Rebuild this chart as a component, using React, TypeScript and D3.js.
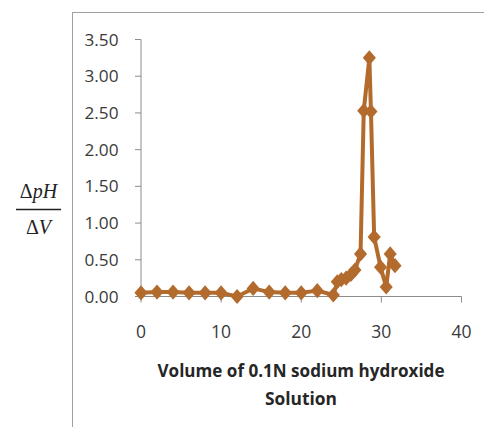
import * as d3 from "d3";

// titration readings: volume of NaOH (ml) vs ΔpH/ΔV
const volume = [0, 2, 4, 6, 8, 10, 12, 14, 16, 18, 20, 22, 24, 24.5, 25, 25.6, 26.2, 26.7, 27.4, 27.8, 28.5, 28.7, 29.1, 29.9, 30.6, 31.1, 31.7];
const dpHdV = [0.05, 0.06, 0.06, 0.05, 0.05, 0.05, 0.0, 0.11, 0.06, 0.05, 0.05, 0.08, 0.02, 0.2, 0.23, 0.25, 0.3, 0.36, 0.58, 2.53, 3.25, 2.52, 0.81, 0.4, 0.13, 0.58, 0.42];
const xTicks = [0, 10, 20, 30, 40];
const yTicks = [0, 0.5, 1, 1.5, 2, 2.5, 3, 3.5];

const color = "#b36b2d";
const axisColor = "#8c8c8c";
const labelFont = "'Open Sans', 'Liberation Sans', sans-serif";
const titleFont = "'Open Sans', 'Liberation Sans', sans-serif";

export default function App() {
  const width = 484;
  const height = 427;
  const x = d3.scaleLinear().domain([0, 40]).range([141, 461.5]);
  const y = d3.scaleLinear().domain([0, 3.5]).range([296.5, 39.5]);
  const points = volume.map((v, i) => [v, dpHdV[i]] as [number, number]);
  const line = d3
    .line<[number, number]>()
    .x((d) => x(d[0]))
    .y((d) => y(d[1]));
  const diamond = d3.symbol().type(d3.symbolDiamond2).size(110)() ?? "";

  return (
    <svg
      width={width}
      height={height}
      style={{ position: "absolute", left: 0, top: 0, background: "#fff" }}
    >
      {/* chart frame */}
      <rect x={72.5} y={12.5} width={500} height={500} fill="none" stroke="#a0a0a0" strokeWidth={1} />

      {/* y axis */}
      <line x1={x(0)} x2={x(0)} y1={y(3.5)} y2={y(0)} stroke={axisColor} />
      {yTicks.map((t) => (
        <g key={t}>
          <line x1={x(0) - 6} x2={x(0)} y1={y(t)} y2={y(t)} stroke={axisColor} />
          <text
            x={118.5}
            y={y(t) + 6}
            textAnchor="end"
            fontFamily={labelFont}
            fontSize={16.5}
            fill="#3a3a3a"
            textLength={34}
            lengthAdjust="spacingAndGlyphs"
          >
            {d3.format(".2f")(t)}
          </text>
        </g>
      ))}

      {/* x axis */}
      <line x1={x(0)} x2={x(40)} y1={y(0)} y2={y(0)} stroke={axisColor} />
      {xTicks.map((t) => (
        <g key={t}>
          <line x1={x(t)} x2={x(t)} y1={y(0)} y2={y(0) + 6} stroke={axisColor} />
          <text
            x={x(t)}
            y={338}
            textAnchor="middle"
            fontFamily={labelFont}
            fontSize={17.5}
            fill="#3a3a3a"
          >
            {t}
          </text>
        </g>
      ))}

      {/* series */}
      <path d={line(points) ?? ""} fill="none" stroke={color} strokeWidth={4} strokeLinejoin="round" />
      {points.map((d, i) => (
        <path key={i} d={diamond} transform={`translate(${x(d[0])},${y(d[1])}) scale(1,1.15)`} fill={color} />
      ))}

      {/* x axis title */}
      <text
        x={301}
        y={377}
        textAnchor="middle"
        fontFamily={titleFont}
        fontWeight="bold"
        fontSize={18.5}
        fill="#262626"
        textLength={287}
        lengthAdjust="spacingAndGlyphs"
      >
        Volume of 0.1N sodium hydroxide
      </text>
      <text
        x={301}
        y={404.5}
        textAnchor="middle"
        fontFamily={titleFont}
        fontWeight="bold"
        fontSize={18.5}
        fill="#262626"
        textLength={72}
        lengthAdjust="spacingAndGlyphs"
      >
        Solution
      </text>

      {/* y axis title: ΔpH / ΔV */}
      <g fontFamily="'Liberation Serif', 'DejaVu Serif', serif" fontSize={20} fill="#222">
        <text x={38.5} y={198} textAnchor="middle">
          Δ<tspan fontStyle="italic">pH</tspan>
        </text>
        <line x1={16} x2={61} y1={209.5} y2={209.5} stroke="#222" strokeWidth={1.3} />
        <text x={38.5} y={234} textAnchor="middle">
          Δ<tspan fontStyle="italic">V</tspan>
        </text>
      </g>
    </svg>
  );
}
